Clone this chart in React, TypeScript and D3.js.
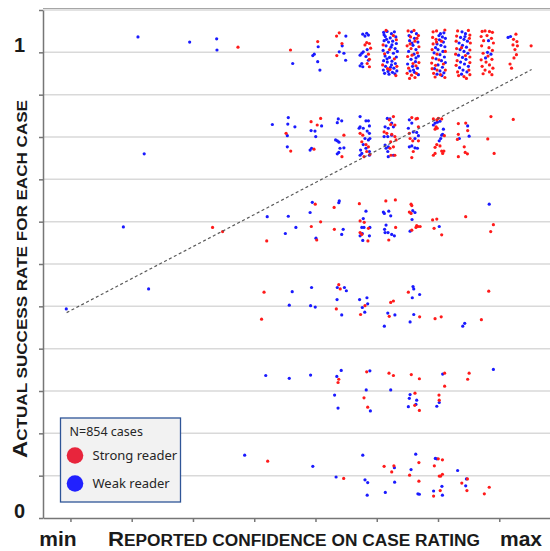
import React, { useEffect, useRef } from 'react';
import { select, scaleLinear, axisLeft, axisBottom, line } from 'd3';

// confidence levels on x (0 = min), success rate on y (1 = all correct)
const confTicks = [0, 2.5, 5, 7.5, 10, 12.5, 15, 17.5];
const rateTicks = Array.from({ length: 13 }, (_, k) => k / 11);
const rateLabels = [{ v: 0, t: '0' }, { v: 1, t: '1' }];
const trendLine = [[-0.155, 0.441], [18.82, 0.963]];

// row 1 (success ~1)
const r1Weak = [
  [2.755, 1.033], [4.865, 1.022], [5.967, 1.029], [5.98, 1.005], [9.07, 0.976],
  [10.11, 1.012], [9.95, 0.996], [9.89, 0.993], [10.09, 0.98], [10.18, 0.962],
  [11.24, 1.035], [11.09, 1.014], [10.97, 1.001], [11.16, 0.998], [11.23, 0.983],
  [11.93, 1.039], [12.09, 1.041], [12.16, 1.037], [12.02, 1.035], [12.11, 1.006], [11.95, 1.001], [11.89, 0.998],
  [11.82, 0.994], [12.06, 0.991], [12.16, 0.983], [11.89, 0.976], [11.82, 0.971], [11.93, 0.969],
  [12.78, 1.043], [12.92, 1.045], [13.1, 1.04], [13.22, 1.044], [12.85, 1.034], [13.05, 1.031], [13.28, 1.033],
  [12.8, 1.025], [12.98, 1.022], [13.15, 1.024], [13.3, 1.019], [12.88, 1.014], [13.08, 1.011], [13.25, 1.008],
  [12.76, 1.004], [12.95, 1.0], [13.18, 0.998], [12.84, 0.992], [13.02, 0.989], [13.3, 0.99], [12.78, 0.982],
  [12.93, 0.979], [13.12, 0.981], [13.26, 0.976], [12.86, 0.97], [13.06, 0.968], [13.2, 0.966], [12.77, 0.962],
  [12.96, 0.959], [13.14, 0.957], [13.32, 0.96], [12.82, 0.955], [13.0, 0.953], [13.24, 0.954], [12.9, 1.028],
  [13.12, 1.016], [12.92, 0.986], [13.1, 0.973], [12.8, 1.038], [13.34, 1.002],
  [13.92, 1.044], [14.12, 1.04], [14.04, 1.03], [13.84, 1.025], [14.18, 1.022], [13.98, 1.015], [14.1, 1.006],
  [13.8, 1.002], [14.02, 0.996], [14.2, 0.992], [13.9, 0.985], [14.08, 0.98], [13.76, 0.975], [13.96, 0.97],
  [14.16, 0.966], [13.86, 0.96], [14.04, 0.957], [14.2, 0.952], [13.94, 1.02], [14.1, 0.988], [13.82, 1.036], [14.0, 0.962],
  [15.1, 1.04], [15.24, 1.042], [15.18, 1.033], [15.3, 1.03], [15.06, 1.027], [15.22, 1.022], [14.96, 1.018],
  [15.12, 1.015], [15.28, 1.012], [15.0, 1.006], [15.2, 1.002], [14.84, 0.999], [15.08, 0.995], [15.26, 0.99],
  [14.92, 0.986], [15.14, 0.982], [15.3, 0.978], [15.0, 0.973], [15.18, 0.968], [14.86, 0.965], [15.08, 0.96],
  [15.24, 0.956], [14.96, 0.953], [15.16, 0.95], [15.04, 1.036], [14.9, 1.01],
  [15.98, 1.044], [16.12, 1.04], [15.92, 1.032], [16.06, 1.028], [16.2, 1.024], [15.86, 1.02], [16.0, 1.015],
  [16.16, 1.011], [15.9, 1.006], [16.06, 1.002], [16.22, 0.998], [15.84, 0.994], [16.0, 0.989], [16.14, 0.985],
  [15.92, 0.979], [16.08, 0.975], [16.24, 0.97], [15.88, 0.967], [16.02, 0.962], [16.18, 0.958], [15.96, 0.953], [16.1, 1.034],
  [17.06, 1.025], [17.02, 1.0], [16.94, 0.988], [17.16, 0.996],
  [17.86, 1.032], [17.96, 1.034],
];
const r1Strong = [
  [6.837, 1.011], [8.98, 1.005], [10.09, 1.023], [10.86, 1.035], [10.97, 1.042], [11.08, 1.019], [10.87, 0.993],
  [12.09, 1.021], [12.2, 1.019], [12.02, 1.016], [12.25, 1.009], [12.16, 0.996], [12.2, 0.985], [12.11, 0.976], [12.2, 0.969],
  [12.88, 1.047], [13.18, 1.036], [13.3, 1.027], [12.76, 1.016], [13.02, 1.006], [12.82, 0.997], [13.22, 0.986],
  [13.32, 0.97], [12.74, 0.973], [13.04, 0.963], [13.28, 0.95], [12.94, 0.965],
  [13.78, 1.046], [14.02, 1.047], [14.2, 1.036], [13.88, 1.033], [14.22, 1.012], [13.74, 1.014], [13.9, 1.008],
  [14.16, 0.999], [13.76, 0.991], [13.94, 0.994], [14.22, 0.978], [13.8, 0.966], [14.1, 0.971], [13.74, 0.955],
  [13.92, 0.951], [14.12, 0.955], [13.86, 1.018], [14.06, 1.024], [14.14, 1.03], [13.98, 0.976], [13.84, 0.944], [14.06, 0.946],
  [14.8, 1.044], [14.94, 1.046], [15.28, 1.048], [14.78, 1.032], [14.92, 1.028], [14.8, 1.018], [15.3, 1.002],
  [14.76, 1.006], [14.96, 0.996], [14.78, 0.988], [15.04, 0.984], [14.74, 0.977], [14.9, 0.972], [15.22, 0.975],
  [14.76, 0.965], [14.96, 0.962], [15.3, 0.962], [14.82, 0.955], [15.1, 0.952], [15.28, 0.946], [14.88, 0.947],
  [14.94, 1.022], [15.14, 1.024],
  [15.8, 1.046], [16.24, 1.047], [16.3, 1.037], [15.76, 1.035], [15.74, 1.024], [16.32, 1.02], [15.76, 1.008],
  [16.3, 1.005], [15.72, 0.996], [16.3, 0.99], [15.78, 0.982], [16.3, 0.978], [15.74, 0.972], [16.26, 0.962],
  [15.8, 0.958], [16.3, 0.952], [15.84, 0.95], [16.06, 0.948], [16.16, 0.944], [15.96, 1.01], [16.12, 0.993], [16.28, 1.03],
  [16.8, 1.045], [16.92, 1.046], [17.1, 1.045], [17.22, 1.043], [16.76, 1.034], [17.0, 1.036], [17.18, 1.03],
  [16.86, 1.025], [17.26, 1.02], [16.78, 1.014], [17.08, 1.01], [17.22, 1.004], [16.84, 0.998], [17.04, 0.992],
  [16.76, 0.984], [17.2, 0.985], [16.96, 0.979], [17.1, 0.973], [16.8, 0.97], [17.24, 0.966], [16.92, 0.962],
  [17.1, 0.958], [16.84, 0.954], [17.2, 0.952],
  [18.18, 1.039], [18.22, 1.023], [18.08, 1.028], [18.14, 1.006], [18.2, 0.995], [18.1, 0.988], [17.94, 0.975],
  [18.0, 0.966], [18.24, 1.014], [18.06, 1.016], [18.8, 1.014],
];

// row 2
const r2Weak = [
  [3.01, 0.782], [8.24, 0.845], [8.89, 0.86], [8.87, 0.846], [9.16, 0.84], [8.85, 0.821], [8.85, 0.797],
  [10.25, 0.842], [9.82, 0.832], [9.98, 0.831], [10.01, 0.819], [9.78, 0.79], [9.84, 0.794],
  [10.93, 0.857], [11.07, 0.853], [10.89, 0.849], [10.82, 0.812], [10.89, 0.81], [10.96, 0.807], [11.0, 0.794],
  [11.16, 0.795], [10.95, 0.785], [10.89, 0.782],
  [11.82, 0.862], [12.06, 0.853], [12.16, 0.853], [11.82, 0.84], [11.78, 0.837], [12.2, 0.842], [11.95, 0.837],
  [12.11, 0.831], [12.2, 0.826], [12.02, 0.815], [12.16, 0.812], [12.22, 0.815], [11.95, 0.802], [11.84, 0.79],
  [12.06, 0.794], [12.2, 0.787], [11.82, 0.779], [11.89, 0.783], [12.2, 0.779],
  [12.93, 0.858], [13.04, 0.857], [13.11, 0.848], [13.18, 0.84], [12.97, 0.837], [12.84, 0.84], [12.95, 0.819],
  [13.11, 0.822], [12.8, 0.819], [12.84, 0.801], [12.97, 0.797], [12.88, 0.794], [12.95, 0.787], [12.97, 0.776], [13.18, 0.779],
  [13.83, 0.855], [13.93, 0.848], [13.79, 0.837], [13.99, 0.829], [14.13, 0.828], [14.06, 0.815], [14.2, 0.821],
  [13.93, 0.799], [14.06, 0.795], [14.16, 0.794], [13.83, 0.797],
  [14.88, 0.848], [14.97, 0.85], [15.08, 0.852], [14.81, 0.844], [15.22, 0.835], [15.19, 0.824], [15.15, 0.822],
  [15.11, 0.815], [15.05, 0.81],
  [16.21, 0.842], [15.87, 0.815], [16.27, 0.82],
];
const r2Strong = [
  [8.8, 0.826], [8.99, 0.788], [9.82, 0.851], [10.21, 0.858], [10.07, 0.844], [9.94, 0.792],
  [11.16, 0.822], [11.08, 0.776],
  [11.82, 0.826], [11.93, 0.822], [11.89, 0.808], [12.06, 0.802], [12.16, 0.797], [12.09, 0.787], [11.98, 0.776], [12.22, 0.781],
  [13.18, 0.862], [13.01, 0.855], [13.07, 0.845], [13.24, 0.844], [12.8, 0.829], [12.91, 0.826], [13.11, 0.824],
  [13.24, 0.819], [13.29, 0.812], [13.07, 0.808], [13.04, 0.794], [13.18, 0.797], [13.08, 0.779], [13.24, 0.779],
  [13.93, 0.86], [14.1, 0.857], [14.16, 0.858], [14.2, 0.84], [13.83, 0.826], [13.86, 0.815], [13.97, 0.81],
  [14.2, 0.81], [13.99, 0.787], [13.93, 0.774],
  [14.81, 0.857], [14.95, 0.855], [15.01, 0.858], [15.15, 0.857], [14.92, 0.84], [14.97, 0.837], [14.88, 0.835],
  [15.26, 0.821], [14.95, 0.802], [15.08, 0.799], [14.88, 0.796], [15.15, 0.788], [15.24, 0.788], [15.19, 0.783],
  [14.81, 0.779], [14.88, 0.783],
  [15.83, 0.847], [16.13, 0.848], [16.21, 0.832], [15.83, 0.824], [15.79, 0.813], [16.07, 0.797], [16.11, 0.785],
  [16.2, 0.782], [15.83, 0.776],
  [17.16, 0.862], [17.03, 0.814], [17.29, 0.783], [18.07, 0.856],
];

// row 3
const r3Weak = [
  [2.16, 0.625], [8.03, 0.647], [8.89, 0.648], [9.2, 0.624], [8.77, 0.611],
  [9.87, 0.678], [9.78, 0.656], [10.02, 0.601],
  [10.97, 0.681], [10.95, 0.677], [11.13, 0.62], [11.07, 0.609],
  [12.06, 0.659], [11.95, 0.643], [11.89, 0.624], [11.98, 0.624], [12.22, 0.624], [11.91, 0.611], [11.82, 0.606],
  [12.2, 0.606], [11.93, 0.596],
  [12.77, 0.657], [12.81, 0.654], [12.99, 0.659], [13.07, 0.649], [12.88, 0.629], [12.82, 0.62], [12.84, 0.613],
  [12.96, 0.613], [13.11, 0.609], [13.22, 0.606],
  [13.97, 0.66], [14.06, 0.656], [13.94, 0.641], [13.86, 0.616],
  [15.05, 0.626], [17.09, 0.674],
];
const r3Strong = [
  [5.8, 0.624], [6.21, 0.615], [8.01, 0.595],
  [9.99, 0.674], [9.83, 0.626], [10.21, 0.636], [10.05, 0.597],
  [10.76, 0.667], [10.77, 0.62],
  [11.79, 0.675], [11.82, 0.638], [11.99, 0.635], [12.16, 0.622], [11.82, 0.613], [11.89, 0.609], [12.14, 0.595],
  [12.87, 0.681], [13.26, 0.683], [13.27, 0.624], [12.99, 0.597],
  [13.9, 0.674], [13.93, 0.671], [13.83, 0.657], [13.9, 0.654], [14.13, 0.628], [14.18, 0.626], [14.27, 0.626],
  [14.1, 0.624], [13.93, 0.618],
  [14.78, 0.64], [14.95, 0.642], [14.84, 0.622], [15.15, 0.608],
  [16.13, 0.647], [17.26, 0.63], [17.15, 0.615],
];

// row 4
const r4Weak = [
  [-0.17, 0.449], [3.19, 0.492], [9.05, 0.486], [8.93, 0.457], [9.84, 0.495], [9.8, 0.456], [9.99, 0.453],
  [10.89, 0.495], [11.18, 0.495], [11.26, 0.488], [10.88, 0.469], [11.07, 0.436],
  [11.8, 0.469], [12.1, 0.473], [12.13, 0.46], [11.91, 0.452], [12.01, 0.442],
  [12.95, 0.44], [13.24, 0.436], [12.81, 0.412],
  [13.98, 0.497], [14.01, 0.492], [14.25, 0.48], [13.95, 0.473], [14.01, 0.437], [13.86, 0.421],
  [16.01, 0.412], [16.09, 0.418],
];
const r4Strong = [
  [7.9, 0.485], [7.8, 0.427], [10.95, 0.501], [11.01, 0.492], [10.85, 0.449],
  [12.02, 0.456], [11.84, 0.437], [13.07, 0.463], [13.18, 0.466], [13.01, 0.433],
  [13.79, 0.485], [14.25, 0.432], [14.88, 0.428], [15.13, 0.432], [16.77, 0.426], [17.07, 0.487],
];

// row 5
const r5Weak = [
  [7.97, 0.306], [8.93, 0.3], [9.8, 0.307], [11.05, 0.317], [10.87, 0.304], [10.78, 0.264], [10.92, 0.236],
  [12.22, 0.316], [12.07, 0.275], [12.24, 0.23], [13.07, 0.275],
  [13.86, 0.265], [13.83, 0.257], [14.13, 0.253], [14.1, 0.244], [13.79, 0.239],
  [15.19, 0.309], [15.05, 0.248], [14.95, 0.24], [17.26, 0.319],
];
const r5Strong = [
  [10.95, 0.298], [10.92, 0.291], [12.09, 0.314], [11.98, 0.258], [12.13, 0.238],
  [13.0, 0.311], [13.18, 0.306], [13.91, 0.308], [14.24, 0.299], [14.06, 0.268], [14.05, 0.242], [14.24, 0.231],
  [15.27, 0.311], [15.27, 0.283], [15.04, 0.264], [15.05, 0.253], [16.27, 0.311], [16.21, 0.298],
];

// row 6
const r6Weak = [
  [7.11, 0.135], [9.89, 0.111], [10.84, 0.088],
  [11.93, 0.135], [12.02, 0.082], [12.13, 0.076], [12.11, 0.049],
  [13.22, 0.108], [13.23, 0.077], [12.85, 0.055],
  [14.09, 0.137], [13.9, 0.104], [14.18, 0.052], [14.24, 0.051],
  [14.89, 0.128], [14.95, 0.127], [15.16, 0.068], [14.82, 0.058], [15.18, 0.049],
  [15.8, 0.102], [16.16, 0.084], [16.13, 0.069],
];
const r6Strong = [
  [8.05, 0.122], [11.15, 0.085], [12.8, 0.111], [13.2, 0.112], [13.11, 0.099],
  [14.22, 0.119], [13.84, 0.092], [14.22, 0.079],
  [15.01, 0.127], [15.18, 0.125], [14.85, 0.112], [15.18, 0.094], [15.05, 0.09], [15.11, 0.09], [15.09, 0.059], [14.82, 0.047],
  [16.2, 0.084], [15.97, 0.075], [16.18, 0.059], [17.09, 0.066], [16.89, 0.052],
];

const BLUE = '#1a1aff';
const RED = '#ff1a1a';

const App = () => {
  const svgRef = useRef(null);

  useEffect(() => {
    const width = 550;
    const height = 551;
    const left = 43;
    const bottom = 518;

    const svg = select(svgRef.current);
    svg.selectAll('*').remove();

    const x = scaleLinear().domain([-1.12, 19.57]).range([left, width]);
    const y = scaleLinear().domain([0, 12 / 11]).range([bottom, 10]);

    // gridlines
    svg.append('g')
      .selectAll('line')
      .data(rateTicks.slice(1))
      .enter().append('line')
      .attr('x1', left).attr('x2', width)
      .attr('y1', d => y(d)).attr('y2', d => y(d))
      .attr('stroke', '#d9d9d9')
      .attr('stroke-width', 1.5);

    // top border
    svg.append('line')
      .attr('x1', left).attr('x2', width)
      .attr('y1', 8.5).attr('y2', 8.5)
      .attr('stroke', '#a6a6a6').attr('stroke-width', 1.2);

    const yAxis = svg.append('g')
      .attr('transform', `translate(${left},0)`)
      .call(axisLeft(y).tickValues(rateTicks).tickSize(4).tickSizeOuter(0).tickFormat(() => ''));
    yAxis.selectAll('path,line').attr('stroke', '#767676').attr('stroke-width', 1.5);

    const xAxis = svg.append('g')
      .attr('transform', `translate(0,${bottom})`)
      .call(axisBottom(x).tickValues(confTicks).tickSize(4).tickSizeOuter(0).tickFormat(() => ''));
    xAxis.selectAll('path,line').attr('stroke', '#767676').attr('stroke-width', 1.5);

    // y labels
    svg.append('g')
      .selectAll('text')
      .data(rateLabels)
      .enter().append('text')
      .attr('x', 19.5)
      .attr('y', d => y(d.v))
      .attr('text-anchor', 'middle')
      .style('font', 'bold 20px "Liberation Sans", Arial, sans-serif')
      .attr('fill', '#1a1a1a')
      .text(d => d.t);

    // points
    const rows = [
      [r1Weak, r1Strong], [r2Weak, r2Strong], [r3Weak, r3Strong],
      [r4Weak, r4Strong], [r5Weak, r5Strong], [r6Weak, r6Strong],
    ];
    const dots = svg.append('g');
    rows.forEach(([weak, strong]) => {
      dots.append('g').selectAll('circle')
        .data(weak)
        .enter().append('circle')
        .attr('cx', d => x(d[0])).attr('cy', d => y(d[1]))
        .attr('r', 1.6).attr('fill', BLUE);
      dots.append('g').selectAll('circle')
        .data(strong)
        .enter().append('circle')
        .attr('cx', d => x(d[0])).attr('cy', d => y(d[1]))
        .attr('r', 1.6).attr('fill', RED);
    });

    // trend
    svg.append('path')
      .attr('d', line().x(d => x(d[0])).y(d => y(d[1]))(trendLine))
      .attr('fill', 'none')
      .attr('stroke', '#5a5a5a')
      .attr('stroke-width', 1.2)
      .attr('stroke-dasharray', '3,2.5');

    // x labels
    const font = '"Liberation Sans", Arial, sans-serif';
    svg.append('text')
      .attr('x', 58).attr('y', 546)
      .attr('text-anchor', 'middle')
      .style('font', `bold 21px ${font}`)
      .attr('fill', '#1a1a1a')
      .text('min');
    svg.append('text')
      .attr('x', 521).attr('y', 546)
      .attr('text-anchor', 'middle')
      .style('font', `bold 21px ${font}`)
      .attr('fill', '#1a1a1a')
      .text('max');

    const xt = svg.append('text')
      .attr('x', 108).attr('y', 546)
      .style('font-family', font).style('font-weight', 'bold')
      .attr('fill', '#1a1a1a')
      .attr('textLength', 372)
      .attr('lengthAdjust', 'spacingAndGlyphs');
    xt.append('tspan').style('font-size', '20.5px').text('R');
    xt.append('tspan').style('font-size', '16px').text('EPORTED CONFIDENCE ON CASE RATING');

    const yt = svg.append('text')
      .attr('transform', 'translate(27,279) rotate(-90)')
      .attr('text-anchor', 'middle')
      .style('font-family', font).style('font-weight', 'bold')
      .attr('fill', '#1a1a1a')
      .attr('textLength', 358)
      .attr('lengthAdjust', 'spacingAndGlyphs');
    yt.append('tspan').style('font-size', '21px').text('A');
    yt.append('tspan').style('font-size', '15px').text('CTUAL SUCCESS RATE FOR EACH CASE');

    // legend
    const legend = svg.append('g');
    legend.append('rect')
      .attr('x', 60.5).attr('y', 418)
      .attr('width', 120).attr('height', 84)
      .attr('fill', '#f2f2f2')
      .attr('stroke', '#2f5597')
      .attr('stroke-width', 1.3);
    const lfont = '"Noto Sans", "Open Sans", sans-serif';
    legend.append('text')
      .attr('x', 69.5).attr('y', 435.5)
      .style('font', `12.5px ${lfont}`)
      .attr('fill', '#262626')
      .text('N=854 cases');
    const items = [
      { label: 'Strong reader', color: '#e8253c', cy: 455.5 },
      { label: 'Weak reader', color: '#2121ff', cy: 483.5 },
    ];
    items.forEach(it => {
      legend.append('circle')
        .attr('cx', 75).attr('cy', it.cy).attr('r', 8.3)
        .attr('fill', it.color);
      legend.append('text')
        .attr('x', 92.5).attr('y', it.cy + 4.5)
        .style('font', `13px ${lfont}`)
        .attr('fill', '#262626')
        .text(it.label);
    });
  }, []);

  return (
    <svg
      ref={svgRef}
      width={550}
      height={551}
      style={{ position: 'absolute', left: 0, top: 0, display: 'block', background: '#fff' }}
    />
  );
};

export default App;
